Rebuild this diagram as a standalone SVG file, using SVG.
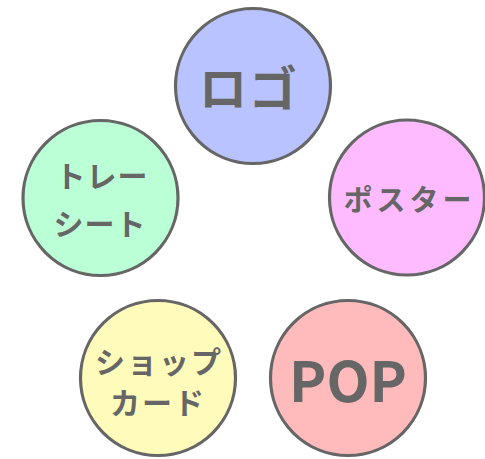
<svg xmlns="http://www.w3.org/2000/svg" width="485" height="459" viewBox="0 0 485 459">
<style>
.c{stroke:#666666;stroke-width:3.2}
.t{font-family:"Noto Sans CJK JP","Noto Sans",sans-serif;font-weight:bold;fill:#666666;text-anchor:middle;dominant-baseline:central}
</style>
<rect width="485" height="459" fill="#ffffff"/>
<g id="connectors"></g>
<g id="logo">
<circle class="c" cx="253" cy="86" r="77.5" fill="#b9c3ff"/>
<text class="t" x="249" y="85" font-size="48" letter-spacing="2">ロゴ</text>
</g>
<g id="poster">
<circle class="c" cx="407" cy="197.5" r="77.5" fill="#ffbbff"/>
<text class="t" x="409.5" y="198" font-size="29" font-weight="900" letter-spacing="4">ポスター</text>
</g>
<g id="trace">
<circle class="c" cx="100.5" cy="198" r="77.5" fill="#bbffd6"/>
<text class="t" x="102" y="174" font-size="30" font-weight="500" letter-spacing="1">トレー</text>
<text class="t" x="100" y="222" font-size="30" font-weight="500" letter-spacing="1">シート</text>
</g>
<g id="shopcard">
<circle class="c" cx="158" cy="378" r="77.5" fill="#fffbbb"/>
<text class="t" x="159" y="360" font-size="30" letter-spacing="2">ショップ</text>
<text class="t" x="158" y="401" font-size="30" letter-spacing="2">カード</text>
</g>
<g id="pop">
<circle class="c" cx="348" cy="378" r="77.5" fill="#ffbbbb"/>
<text class="t" x="348" y="377" font-size="56">POP</text>
</g>
</svg>
